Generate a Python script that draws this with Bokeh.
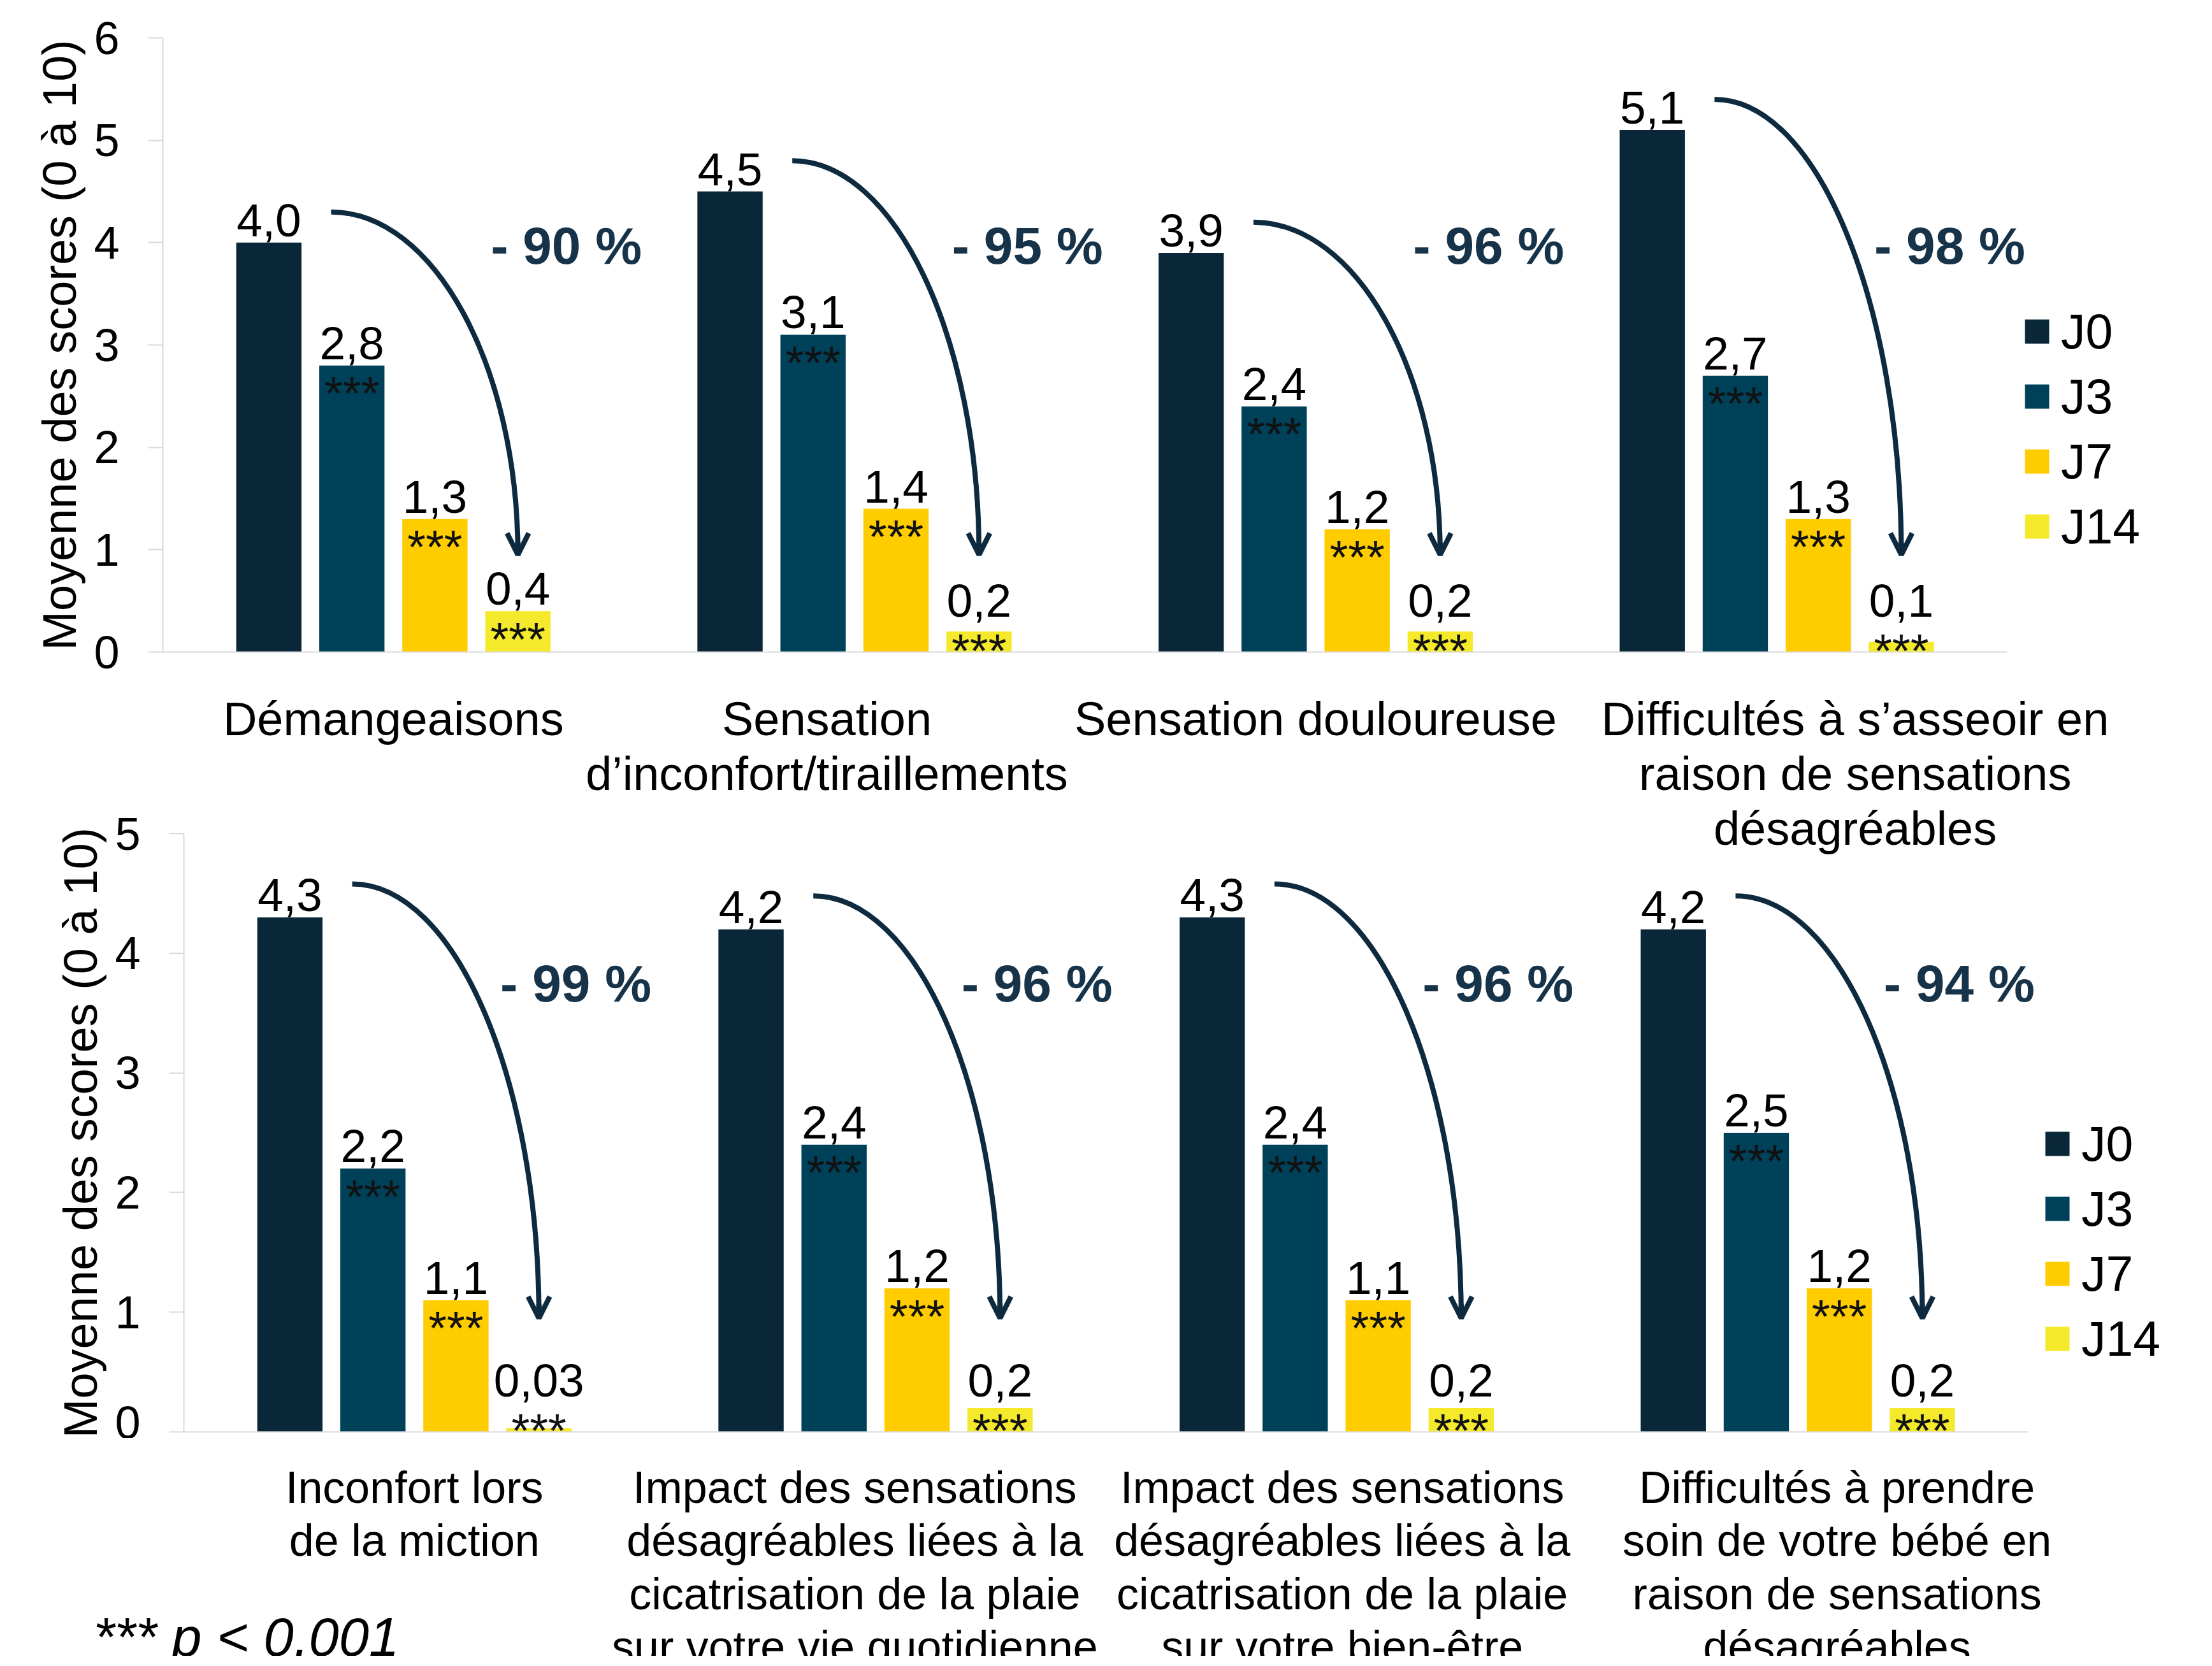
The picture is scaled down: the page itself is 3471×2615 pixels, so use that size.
from bokeh.plotting import figure
from bokeh.models import (ColumnDataSource, Range1d, FixedTicker, Legend, LegendItem,
                          Arrow, OpenHead)
from bokeh.layouts import column
from bokeh.embed import file_html
from bokeh.resources import INLINE
from bokeh.core.properties import value

FONT = "Liberation Sans"

# ---------------- data ----------------
series_names = ["J0", "J3", "J7", "J14"]
series_colors = ["#0a2639", "#00415a", "#ffcc00", "#f4e92b"]

top_categories = [
    "Démangeaisons",
    "Sensation\nd’inconfort/tiraillements",
    "Sensation douloureuse",
    "Difficultés à s’asseoir en\nraison de sensations\ndésagréables",
]
top_j0 = [4.0, 4.5, 3.9, 5.1]
top_j3 = [2.8, 3.1, 2.4, 2.7]
top_j7 = [1.3, 1.4, 1.2, 1.3]
top_j14 = [0.4, 0.2, 0.2, 0.1]
top_reduction = [90, 95, 96, 98]
top_ticks = [0, 1, 2, 3, 4, 5, 6]

bottom_categories = [
    "Inconfort lors\nde la miction",
    "Impact des sensations\ndésagréables liées à la\ncicatrisation de la plaie\nsur votre vie quotidienne",
    "Impact des sensations\ndésagréables liées à la\ncicatrisation de la plaie\nsur votre bien-être",
    "Difficultés à prendre\nsoin de votre bébé en\nraison de sensations\ndésagréables",
]
bottom_j0 = [4.3, 4.2, 4.3, 4.2]
bottom_j3 = [2.2, 2.4, 2.4, 2.5]
bottom_j7 = [1.1, 1.2, 1.1, 1.2]
bottom_j14 = [0.03, 0.2, 0.2, 0.2]
bottom_reduction = [99, 96, 96, 94]
bottom_ticks = [0, 1, 2, 3, 4, 5]

significance = "***"
y_axis_title = "Moyenne des scores (0 à 10)"
footnote = "*** p < 0,001"

# ---------------- style / layout ----------------
ARROW_COLOR = "#0e2a3f"
PCT_COLOR = "#163349"
AXIS_COLOR = "#d9d9d9"
STEP = 0.18
BAR_W = 0.1415
CAT_PX = 723.6          # pixels per category
BL, BR = 255, 20        # common left / right borders
FIG_W = 3420
TOP_LABEL_SHIFT = [0.0, -0.06, 0.0, 0.17]      # label anchor nudges (category units)
BOTTOM_LABEL_SHIFT = [0.0, -0.045, 0.012, 0.085]


def fmt(v):
    s = f"{v:.2f}" if v < 0.1 else f"{v:.1f}"
    return s.replace(".", ",")


def base_fig(width, height, x_range, y_range, bt, bb):
    p = figure(width=width, height=height, x_range=x_range, y_range=y_range,
               output_backend="svg", toolbar_location=None,
               min_border_left=BL, min_border_right=BR, min_border_top=bt, min_border_bottom=bb)
    p.outline_line_color = None
    p.border_fill_color = None
    p.background_fill_color = None
    p.xgrid.grid_line_color = None
    p.ygrid.grid_line_color = None
    return p


def build(categories, series_vals, reductions, ticks, height, bt, bb, ppu,
          legend_xy, pct_xy, arrow_dy, label_shift):
    n = len(categories)
    frame_w = FIG_W - BL - BR
    p = base_fig(FIG_W, height, Range1d(0, frame_w / CAT_PX), Range1d(0, ticks[-1]), bt, bb)

    ya = p.yaxis[0]
    ya.ticker = FixedTicker(ticks=ticks)
    ya.axis_line_color = AXIS_COLOR
    ya.axis_line_width = 2
    ya.major_tick_line_color = AXIS_COLOR
    ya.major_tick_line_width = 2
    ya.major_tick_out = 23
    ya.major_tick_in = 0
    ya.minor_tick_line_color = None
    ya.major_label_text_font = FONT
    ya.major_label_text_font_size = "72px"
    ya.major_label_text_color = "black"
    ya.major_label_standoff = 45
    ya.axis_label = y_axis_title
    ya.axis_label_text_font = FONT
    ya.axis_label_text_font_size = "74px"
    ya.axis_label_text_font_style = "normal"
    ya.axis_label_text_color = "black"
    ya.axis_label_standoff = 9

    xa = p.xaxis[0]
    xa.bounds = (0, n)
    xa.axis_line_color = AXIS_COLOR
    xa.axis_line_width = 2
    xa.major_tick_line_color = None
    xa.minor_tick_line_color = None
    if label_shift is not None:
        pos = [i + 0.5 + s for i, s in enumerate(label_shift)]
        xa.ticker = FixedTicker(ticks=pos)
        xa.major_label_overrides = {c: t for c, t in zip(pos, categories)}
        xa.major_label_text_font = FONT
        xa.major_label_text_font_size = "74px"
        xa.major_label_text_line_height = 1.04
        xa.major_label_text_color = "black"
        xa.major_label_standoff = 57
    else:
        xa.ticker = FixedTicker(ticks=[])

    renderers = []
    for k, (name, color, vals) in enumerate(zip(series_names, series_colors, series_vals)):
        xs = [i + 0.5 + (k - 1.5) * STEP for i in range(n)]
        ast_px = [max(v * ppu - 27, 19) for v in vals]
        if k > 0:
            lab_px = [max(v * ppu + 35, a + 62) for v, a in zip(vals, ast_px)]
        else:
            lab_px = [v * ppu + 35 for v in vals]
        src = ColumnDataSource(dict(
            x=xs, top=vals, lab=[fmt(v) for v in vals],
            lab_y=[q / ppu for q in lab_px],
            ast_y=[(a - 17) / ppu for a in ast_px],
            ast=[significance] * n))
        p.vbar(x="x", top="top", bottom=0, width=BAR_W, source=src,
               fill_color=color, line_color=None)
        p.text(x="x", y="lab_y", text="lab", source=src, text_align="center",
               text_baseline="middle", text_font=value(FONT),
               text_font_size="73px", text_color="black")
        if k > 0:
            p.text(x="x", y="ast_y", text="ast", source=src, text_align="center",
                   text_baseline="middle", text_font=value(FONT),
                   text_font_size="74px", text_color="#111111")
        # legend swatch (one point kept outside the visible range)
        proxy = p.scatter(x=[-100], y=[-100], marker="square", size=24,
                          fill_color=color, line_color=color, line_width=14,
                          line_join="miter")
        renderers.append(proxy)

    # reduction arrows (J0 -> J14)
    j0 = series_vals[0]
    sx = [i + 0.5 - 1.5 * STEP + 0.135 for i in range(n)]
    sy = [v + arrow_dy for v in j0]
    ex = [i + 0.5 + 1.5 * STEP for i in range(n)]
    ey = [0.95] * n
    kk = 0.55
    asrc = ColumnDataSource(dict(
        x0=sx, y0=sy, x1=ex, y1=ey,
        cx0=[a + kk * (b - a) for a, b in zip(sx, ex)], cy0=sy,
        cx1=ex, cy1=[e + kk * (s - e) for s, e in zip(sy, ey)],
        hy=[e + 0.12 for e in ey]))
    p.bezier(x0="x0", y0="y0", x1="x1", y1="y1", cx0="cx0", cy0="cy0", cx1="cx1", cy1="cy1",
             source=asrc, line_color=ARROW_COLOR, line_width=8)
    p.add_layout(Arrow(end=OpenHead(size=34, line_width=8, line_color=ARROW_COLOR),
                       x_start="x1", y_start="hy", x_end="x1", y_end="y1", source=asrc,
                       line_color=ARROW_COLOR, line_width=8))

    px, py = pct_xy
    psrc = ColumnDataSource(dict(x=[i + px for i in range(n)], y=[py] * n,
                                 t=[f"- {r} %" for r in reductions]))
    p.text(x="x", y="y", text="t", source=psrc, text_align="center", text_baseline="middle",
           text_font=value(FONT), text_font_style="bold", text_font_size="82px",
           text_color=PCT_COLOR)

    legend = Legend(items=[LegendItem(label=nm, renderers=[r]) for nm, r in zip(series_names, renderers)],
                    location=legend_xy, orientation="vertical", glyph_width=60, glyph_height=96,
                    label_standoff=8, spacing=6, padding=0, margin=0,
                    border_line_color=None, background_fill_alpha=0,
                    label_text_font=FONT, label_text_font_size="77px", label_text_color="black")
    p.add_layout(legend)
    return p


# top chart: frame x 263.., y 67..1031
top = build(top_categories, [top_j0, top_j3, top_j7, top_j14], top_reduction, top_ticks,
            height=1360, bt=59, bb=337, ppu=964 / 6,
            legend_xy=(2911, 149), pct_xy=(0.875, 3.97), arrow_dy=0.3,
            label_shift=TOP_LABEL_SHIFT)

# bottom chart: frame x 296.., y 1316..2255
bottom = build(bottom_categories, [bottom_j0, bottom_j3, bottom_j7, bottom_j14], bottom_reduction,
               bottom_ticks, height=995, bt=46, bb=10, ppu=939 / 5,
               legend_xy=(2910, 98), pct_xy=(0.85, 3.75), arrow_dy=0.28, label_shift=None)
bottom.margin = (-98, 0, 0, 33)

# caption strip under the bottom chart (category names + footnote), same x scale
CAP_H = 342
cap_left = -142 / CAT_PX
cap_w = 3421
cap = base_fig(cap_w, CAP_H, Range1d(cap_left, cap_left + (cap_w - BL - BR) / CAT_PX),
               Range1d(CAP_H, 0), 0, 0)
cap.xaxis.visible = False
cap.yaxis.visible = False
cap.margin = (0, 0, 0, -109)
lines_x, lines_y, lines_t = [], [], []
for i, (t, s) in enumerate(zip(bottom_categories, BOTTOM_LABEL_SHIFT)):
    for j, line in enumerate(t.split("\n")):
        lines_x.append(i + 0.5 + s)
        lines_y.append(77 + 83.5 * j)
        lines_t.append(line)
cap.text(x=lines_x, y=lines_y, text=lines_t, text_align="center", text_baseline="middle",
         text_font=value(FONT), text_font_size="70px", text_color="black")
cap.text(x=[cap_left], y=[312], text=[footnote], text_align="left", text_baseline="middle",
         text_font=value(FONT), text_font_style="italic", text_font_size="85px",
         text_color="black")

layout = column(top, bottom, cap, spacing=0)
open("out.html", "w").write(file_html(layout, INLINE))
